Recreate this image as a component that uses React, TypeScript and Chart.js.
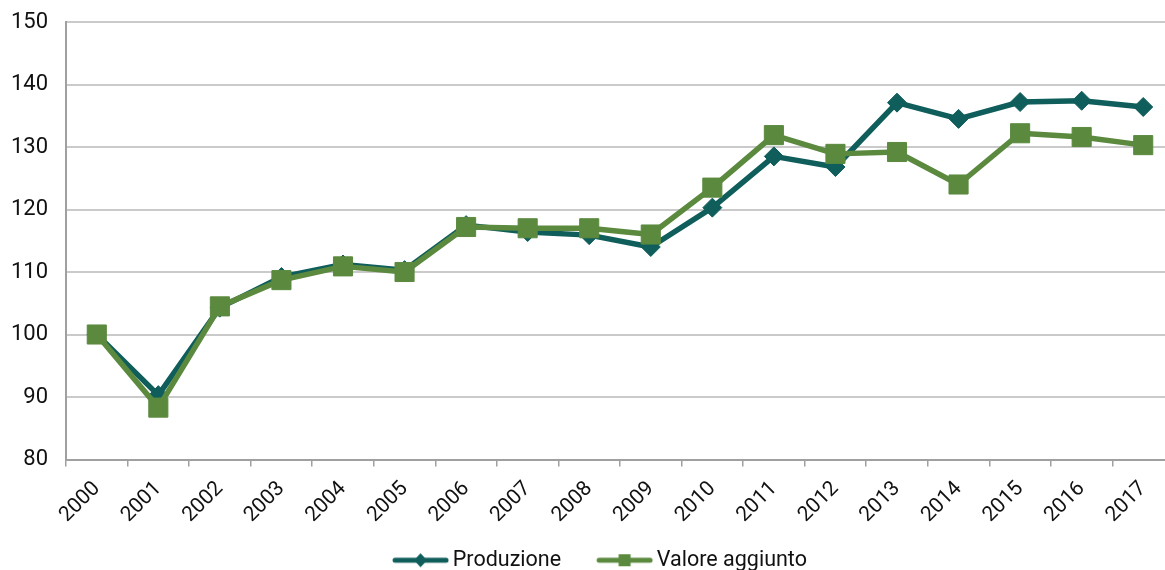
import React, { useEffect, useRef } from "react";
import { Chart, registerables } from "chart.js";

Chart.register(...registerables);

const years = ["2000", "2001", "2002", "2003", "2004", "2005", "2006", "2007", "2008", "2009", "2010", "2011", "2012", "2013", "2014", "2015", "2016", "2017"];
const produzione = [100, 90.3, 104.3, 109.2, 111.2, 110.3, 117.5, 116.4, 115.9, 114.0, 120.3, 128.5, 126.8, 137.1, 134.5, 137.2, 137.4, 136.4];
const valoreAggiunto = [100, 88.3, 104.5, 108.7, 110.9, 110.0, 117.2, 117.0, 117.0, 116.0, 123.5, 131.9, 128.9, 129.2, 124.0, 132.2, 131.6, 130.3];
const yMin = 80;
const yMax = 150;
const yStep = 10;

const TEAL = "#0f5e5c";
const GREEN = "#5b8a3f";
const FONT = "Roboto";

// legend marker: transparent left part, then a 57px line with the marker in its middle
function legendImage(color: string, kind: "diamond" | "square"): HTMLCanvasElement {
  const c = document.createElement("canvas");
  c.width = 71;
  c.height = 18;
  const ctx = c.getContext("2d")!;
  const x0 = 14;
  const cx = x0 + 28.5;
  ctx.strokeStyle = color;
  ctx.fillStyle = color;
  ctx.lineWidth = 5;
  ctx.lineCap = "round";
  ctx.beginPath();
  ctx.moveTo(x0 + 3, 9);
  ctx.lineTo(x0 + 54, 9);
  ctx.stroke();
  if (kind === "diamond") {
    ctx.beginPath();
    ctx.moveTo(cx, 2);
    ctx.lineTo(cx + 6.5, 9);
    ctx.lineTo(cx, 16);
    ctx.lineTo(cx - 6.5, 9);
    ctx.closePath();
    ctx.fill();
  } else {
    ctx.fillRect(cx - 6, 3, 12, 12);
  }
  return c;
}

const legendShift = {
  id: "legendShift",
  beforeDraw(chart: any) {
    const l = chart.legend;
    if (l && !l.__shifted) {
      l.left += 10;
      l.__shifted = true;
    }
  },
};

export default function App() {
  const ref = useRef<HTMLCanvasElement | null>(null);

  useEffect(() => {
    if (!ref.current) return;
    const imgP = legendImage(TEAL, "diamond");
    const imgV = legendImage(GREEN, "square");
    const chart = new Chart(ref.current, {
      type: "line",
      data: {
        labels: years,
        datasets: [
          {
            label: "Produzione",
            data: produzione,
            borderColor: TEAL,
            backgroundColor: TEAL,
            borderWidth: 5.5,
            borderJoinStyle: "round",
            pointStyle: "rectRot",
            pointRadius: 9.5,
            pointBorderWidth: 1,
            pointBackgroundColor: TEAL,
            pointBorderColor: TEAL,
            tension: 0,
            order: 1,
          },
          {
            label: "Valore aggiunto",
            data: valoreAggiunto,
            borderColor: GREEN,
            backgroundColor: GREEN,
            borderWidth: 5.5,
            borderJoinStyle: "round",
            pointStyle: "rect",
            pointRadius: 13.5,
            pointBorderWidth: 1,
            pointBackgroundColor: GREEN,
            pointBorderColor: GREEN,
            tension: 0,
            order: 0,
          },
        ],
      },
      plugins: [legendShift],
      options: {
        animation: false,
        responsive: false,
        devicePixelRatio: 1,
        layout: { autoPadding: false, padding: { top: 22, left: 8, right: 8, bottom: 0 } },
        plugins: {
          tooltip: { enabled: false },
          legend: {
            position: "bottom",
            labels: {
              usePointStyle: true,
              pointStyleWidth: 57,
              padding: 28,
              color: "#111",
              font: { family: FONT, size: 21.5 },
              generateLabels: () => [
                { text: "Produzione", pointStyle: imgP as any, fillStyle: TEAL, strokeStyle: TEAL, lineWidth: 0, hidden: false, datasetIndex: 0, fontColor: "#111" },
                { text: "Valore aggiunto", pointStyle: imgV as any, fillStyle: GREEN, strokeStyle: GREEN, lineWidth: 0, hidden: false, datasetIndex: 1, fontColor: "#111" },
              ],
            },
          },
        },
        scales: {
          x: {
            type: "category",
            offset: true,
            grid: {
              offset: true,
              drawOnChartArea: false,
              drawTicks: true,
              tickLength: 7,
              color: "#a0a0a0",
              lineWidth: 1.5,
            },
            border: { display: true, color: "#a0a0a0", width: 2 },
            ticks: {
              autoSkip: false,
              minRotation: 45,
              maxRotation: 45,
              padding: 10,
              color: "#111",
              font: { family: FONT, size: 21 },
            },
            afterFit: (scale: any) => {
              scale.height = 62;
            },
          },
          y: {
            min: yMin,
            max: yMax,
            grid: {
              drawTicks: true,
              tickLength: 18,
              tickColor: "rgba(0,0,0,0)",
              color: "#cacaca",
              lineWidth: 2,
            },
            border: { display: true, color: "#a0a0a0", width: 2 },
            ticks: {
              stepSize: yStep,
              padding: 0,
              color: "#111",
              font: { family: FONT, size: 22 },
            },
            afterFit: (scale: any) => {
              scale.width = 58;
            },
          },
        },
      },
    });
    return () => chart.destroy();
  }, []);

  return (
    <div style={{ position: "fixed", left: 0, top: 0, width: 1165, height: 570, overflow: "hidden", background: "#fff" }}>
      <canvas ref={ref} width={1182} height={581} style={{ display: "block", width: 1182, height: 581 }} />
    </div>
  );
}
